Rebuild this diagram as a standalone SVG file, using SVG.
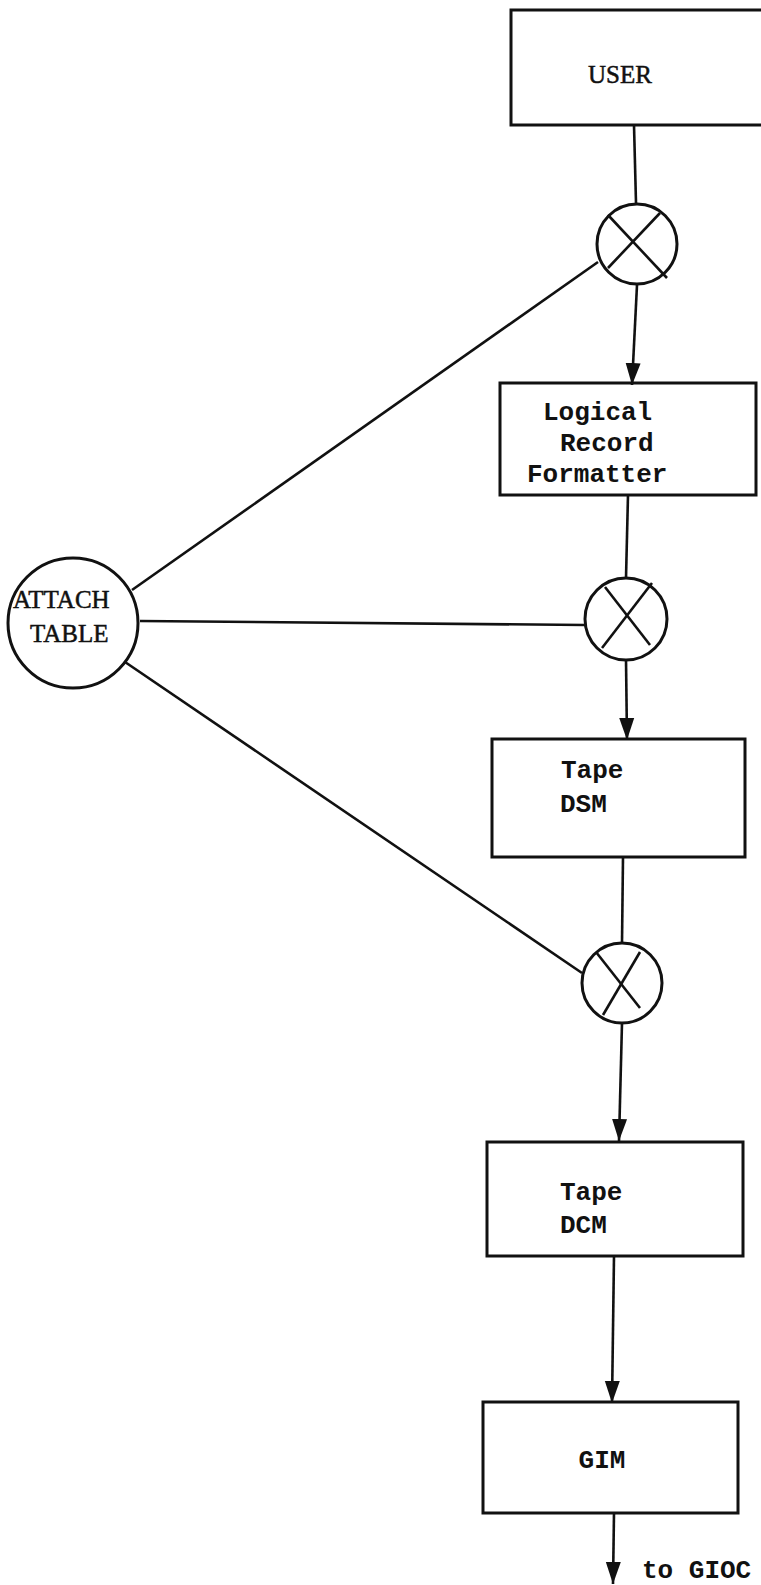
<svg xmlns="http://www.w3.org/2000/svg" width="761" height="1585" viewBox="0 0 761 1585">
  <style>
    .box { fill: none; stroke: #111; stroke-width: 3; }
    .ring { fill: none; stroke: #111; stroke-width: 3; }
    .wire { fill: none; stroke: #111; stroke-width: 2.6; }
    .mono { font-family: "Liberation Mono", "Courier New", monospace; font-size: 26px; font-weight: bold; fill: #111; }
    .serif { font-family: "Liberation Serif", "Times New Roman", serif; font-size: 25px; fill: #111; stroke: #111; stroke-width: 0.5; }
  </style>
  <defs>
    <marker id="arrow" markerUnits="userSpaceOnUse" markerWidth="24" markerHeight="16" refX="22" refY="8" orient="auto">
      <path d="M0,0.5 L22,8 L0,15.5 z" fill="#111"/>
    </marker>
  </defs>
  <rect width="761" height="1585" fill="#fff"/>

  <!-- connectors -->
  <g id="connectors">
    <line class="wire" x1="634" y1="125" x2="636" y2="203"/>
    <line class="wire" x1="637" y1="285" x2="632" y2="385" marker-end="url(#arrow)"/>
    <line class="wire" x1="628" y1="495" x2="626" y2="578"/>
    <line class="wire" x1="626" y1="660" x2="627" y2="740" marker-end="url(#arrow)"/>
    <line class="wire" x1="623" y1="857" x2="622" y2="943"/>
    <line class="wire" x1="622" y1="1023" x2="619" y2="1141" marker-end="url(#arrow)"/>
    <line class="wire" x1="614" y1="1256" x2="612" y2="1403" marker-end="url(#arrow)"/>
    <line class="wire" x1="614" y1="1513" x2="613" y2="1584" marker-end="url(#arrow)"/>
    <!-- attach table links -->
    <line class="wire" x1="132" y1="590" x2="598" y2="262"/>
    <line class="wire" x1="140" y1="621" x2="585" y2="625"/>
    <line class="wire" x1="125" y1="662" x2="582" y2="973"/>
  </g>

  <g id="user">
    <polyline class="box" points="761,10 511,10 511,125 761,125"/>
    <text class="serif" x="620" y="83" text-anchor="middle">USER</text>
  </g>

  <g id="switch1">
    <circle class="ring" cx="637" cy="244" r="40"/>
    <line class="wire" x1="608" y1="215" x2="667" y2="278"/>
    <line class="wire" x1="660" y1="213" x2="608" y2="268"/>
  </g>

  <g id="formatter">
    <rect class="box" x="500" y="383" width="256" height="112"/>
    <text class="mono" x="543" y="420">Logical</text>
    <text class="mono" x="560" y="451">Record</text>
    <text class="mono" x="527" y="482">Formatter</text>
  </g>

  <g id="switch2">
    <circle class="ring" cx="626" cy="619" r="41"/>
    <line class="wire" x1="605" y1="587" x2="650" y2="645"/>
    <line class="wire" x1="652" y1="583" x2="602" y2="648"/>
  </g>

  <g id="attach-table">
    <circle class="ring" cx="73" cy="623" r="65"/>
    <text class="serif" x="13" y="608">ATTACH</text>
    <text class="serif" x="30" y="642">TABLE</text>
  </g>

  <g id="tape-dsm">
    <rect class="box" x="492" y="739" width="253" height="118"/>
    <text class="mono" x="561" y="778">Tape</text>
    <text class="mono" x="560" y="812">DSM</text>
  </g>

  <g id="switch3">
    <circle class="ring" cx="622" cy="983" r="40"/>
    <line class="wire" x1="596" y1="952" x2="640" y2="1008"/>
    <line class="wire" x1="640" y1="952" x2="603" y2="1015"/>
  </g>

  <g id="tape-dcm">
    <rect class="box" x="487" y="1142" width="256" height="114"/>
    <text class="mono" x="560" y="1200">Tape</text>
    <text class="mono" x="560" y="1233">DCM</text>
  </g>

  <g id="gim">
    <rect class="box" x="483" y="1402" width="255" height="111"/>
    <text class="mono" x="602" y="1468" text-anchor="middle">GIM</text>
  </g>

  <g id="gioc-label">
    <text class="mono" x="642" y="1578">to GIOC</text>
  </g>
</svg>
